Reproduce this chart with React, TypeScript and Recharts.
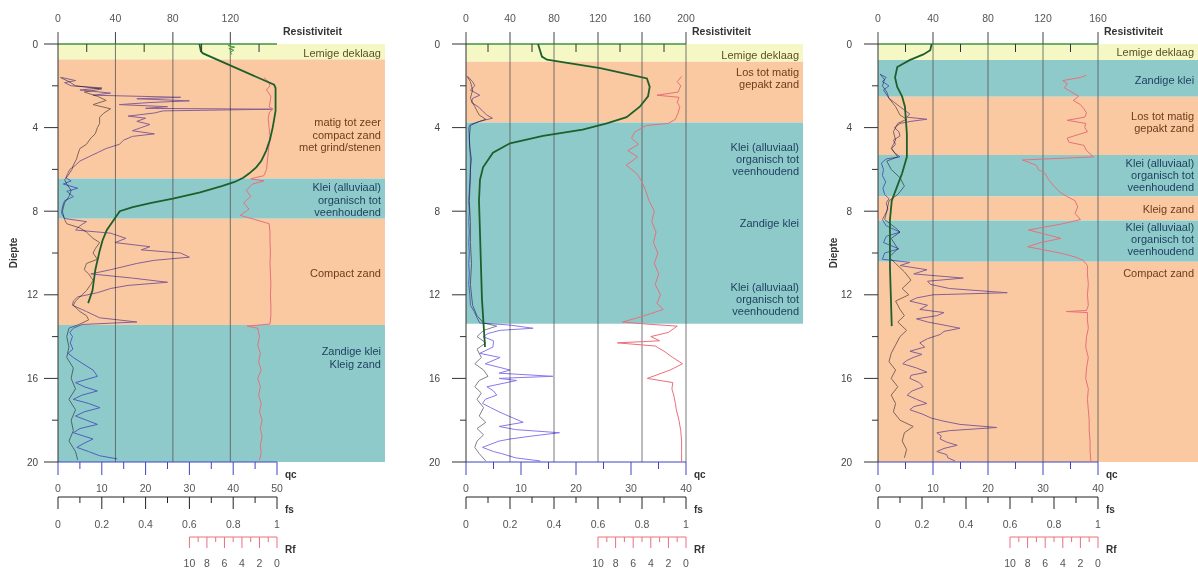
import React from 'react';
import { ComposedChart, XAxis, YAxis, Scatter, ReferenceArea, ReferenceLine } from 'recharts';

const FONT = '"Liberation Sans", Arial, sans-serif';

// ** Ticks
const depthTicks = [0, 2, 4, 6, 8, 10, 12, 14, 16, 18, 20];
const qcTicks50 = [0, 5, 10, 15, 20, 25, 30, 35, 40, 45, 50];
const qcTicks40 = [0, 5, 10, 15, 20, 25, 30, 35, 40];
const fsTicks = [0, 0.1, 0.2, 0.3, 0.4, 0.5, 0.6, 0.7, 0.8, 0.9, 1];
const rfTicks = [0, 1, 2, 3, 4, 5, 6, 7, 8, 9, 10];
const resTicks1 = [0, 20, 40, 60, 80, 100, 120, 140];
const resTicks2 = [0, 20, 40, 60, 80, 100, 120, 140, 160, 180, 200];
const resTicks3 = [0, 20, 40, 60, 80, 100, 120, 140, 160];
const resGrid1 = [40, 80, 120];
const resGrid2 = [40, 80, 120, 160, 200];
const resGrid3 = [40, 80, 120, 160];

type Pt = [number, number]; // [depth, value]
type Kind = 'Y' | 'O' | 'T';
type Layer = [number, number, Kind];
type LayerLabel = { d: number; kind: Kind; lines: string[] };

// ** Sondering 1
const qc1: Pt[] = [
  [1.6, 0.8], [1.75, 4], [1.85, 1.5], [2.0, 3], [2.1, 10], [2.2, 5], [2.35, 12], [2.45, 8], [2.55, 28], [2.62, 18],
  [2.72, 30], [2.8, 21], [2.9, 14], [3.0, 25], [3.08, 20], [3.12, 49], [3.2, 24], [3.3, 22], [3.45, 16], [3.55, 20],
  [3.7, 18], [3.85, 21], [4.0, 19], [4.15, 17], [4.3, 22], [4.42, 17], [4.6, 15], [4.8, 14], [5.0, 11], [5.2, 9],
  [5.4, 7], [5.6, 5], [5.8, 4], [6.0, 2.7], [6.2, 2.2], [6.4, 1.8], [6.55, 3], [6.7, 1.2], [6.9, 4.5], [7.05, 2],
  [7.3, 3.5], [7.5, 1.5], [7.8, 1.0], [8.1, 0.8], [8.35, 1.5], [8.5, 6.5], [8.7, 5], [8.9, 4], [9.05, 12], [9.3, 15.5],
  [9.5, 13], [9.7, 21], [9.85, 19], [10.0, 28], [10.2, 30], [10.35, 22], [10.5, 18], [10.8, 12], [11.0, 7.5], [11.2, 17],
  [11.4, 25], [11.55, 16], [11.7, 12], [11.9, 9], [12.1, 4.5], [12.3, 3.5], [12.5, 3.3], [12.8, 6.5], [13.1, 9.5], [13.3, 18],
  [13.42, 5.5], [13.6, 3.5], [13.8, 2.7], [14.0, 3.3], [14.3, 2.8], [14.6, 3.4], [14.8, 2.3], [15.0, 3.5], [15.3, 5.7], [15.6, 8],
  [15.9, 9], [16.2, 4], [16.4, 6], [16.6, 9], [16.8, 5.5], [17.0, 3.5], [17.2, 7], [17.4, 9.6], [17.6, 6], [17.8, 4],
  [18.0, 6.5], [18.2, 9], [18.4, 5], [18.6, 3.5], [18.9, 8], [19.1, 6], [19.3, 4.3], [19.5, 7], [19.7, 9.5], [19.85, 13.5],
];
const fs1: Pt[] = [
  [1.6, 0.01], [1.8, 0.05], [2.0, 0.08], [2.15, 0.2], [2.3, 0.12], [2.5, 0.18], [2.7, 0.22], [2.9, 0.16], [3.1, 0.24], [3.3, 0.21],
  [3.5, 0.19], [3.8, 0.19], [4.0, 0.18], [4.3, 0.17], [4.5, 0.15], [4.8, 0.13], [5.0, 0.1], [5.3, 0.09], [5.5, 0.085], [5.8, 0.07],
  [6.0, 0.064], [6.3, 0.045], [6.5, 0.03], [6.7, 0.04], [7.0, 0.06], [7.3, 0.05], [7.6, 0.03], [8.0, 0.02], [8.4, 0.03], [8.6, 0.04],
  [8.8, 0.1], [9.0, 0.13], [9.3, 0.16], [9.5, 0.19], [9.8, 0.17], [10.0, 0.16], [10.3, 0.18], [10.5, 0.13], [10.8, 0.12], [11.0, 0.14],
  [11.3, 0.16], [11.5, 0.15], [11.8, 0.13], [12.0, 0.11], [12.3, 0.08], [12.5, 0.07], [12.8, 0.1], [13.0, 0.13], [13.2, 0.14], [13.4, 0.1],
  [13.6, 0.05], [14.0, 0.04], [14.5, 0.05], [15.0, 0.04], [15.5, 0.07], [16.0, 0.06], [16.5, 0.08], [17.0, 0.05], [17.5, 0.08], [18.0, 0.06],
  [18.5, 0.07], [19.0, 0.05], [19.5, 0.08], [19.9, 0.09],
];
const rf1: Pt[] = [
  [1.6, 1.5], [1.8, 1.0], [2.0, 0.8], [2.2, 1.2], [2.5, 0.7], [2.8, 0.8], [3.0, 0.9], [3.1, 0.5], [3.3, 0.9], [3.6, 1.0],
  [4.0, 0.9], [4.4, 0.8], [4.8, 0.9], [5.2, 1.0], [5.6, 1.1], [6.0, 1.2], [6.3, 1.5], [6.45, 3.0], [6.55, 1.5], [6.7, 2.8],
  [7.0, 3.5], [7.3, 3.0], [7.6, 3.8], [7.9, 3.2], [8.2, 4.2], [8.4, 2.5], [8.6, 0.9], [9.0, 0.8], [9.5, 0.8], [10.0, 0.75],
  [10.5, 0.8], [11.0, 0.75], [11.5, 0.7], [12.0, 0.75], [12.5, 0.7], [13.0, 0.7], [13.4, 0.8], [13.5, 3.4], [13.6, 2.2], [14.0, 2.0],
  [14.4, 2.2], [14.8, 1.9], [15.2, 2.1], [15.6, 1.8], [16.0, 2.2], [16.4, 1.9], [16.8, 2.1], [17.2, 1.8], [17.6, 2.0], [18.0, 1.7],
  [18.4, 1.9], [18.8, 1.7], [19.2, 1.9], [19.6, 1.8], [19.9, 2.0],
];
const res1: Pt[] = [
  [0, 98.5], [0.35, 99.5], [0.45, 101], [1.95, 150.5], [2.1, 151.5], [3.2, 151.5], [4.0, 149.5], [4.6, 147.5], [5.1, 145], [5.6, 141.5],
  [5.9, 138], [6.2, 133], [6.4, 129], [6.6, 123], [6.8, 114], [7.1, 99], [7.4, 80], [7.6, 65], [7.8, 52], [8.0, 43],
  [8.3, 40], [8.9, 34], [9.4, 31], [9.9, 29], [10.8, 26], [11.8, 24], [12.4, 21],
];
const resRaw1: Pt[] = [[0, 121], [0.08, 118.5], [0.15, 123], [0.22, 119], [0.3, 122.5], [0.38, 120], [0.5, 121]];
const layers1: Layer[] = [[0, 0.74, 'Y'], [0.74, 6.43, 'O'], [6.43, 8.36, 'T'], [8.36, 13.44, 'O'], [13.44, 20, 'T']];
const labels1: LayerLabel[] = [
  { d: 0.43, kind: 'Y', lines: ['Lemige deklaag'] },
  { d: 4.35, kind: 'O', lines: ['matig tot zeer', 'compact zand', 'met grind/stenen'] },
  { d: 7.46, kind: 'T', lines: ['Klei (alluviaal)', 'organisch tot', 'veenhoudend'] },
  { d: 10.96, kind: 'O', lines: ['Compact zand'] },
  { d: 15.0, kind: 'T', lines: ['Zandige klei', 'Kleig zand'] },
];

// ** Sondering 2
const qc2: Pt[] = [
  [1.55, 0.3], [1.8, 1.2], [2.0, 1.6], [2.2, 0.8], [2.45, 2.5], [2.6, 1.2], [2.8, 1.0], [3.0, 2.2], [3.2, 3.0], [3.4, 3.8],
  [3.55, 4.8], [3.7, 2.5], [3.85, 0.8], [4.0, 0.5], [4.5, 0.6], [5.0, 0.7], [5.5, 1.0], [6.0, 0.8], [6.5, 0.7], [7.0, 0.6],
  [7.5, 0.5], [8.0, 0.6], [8.5, 0.5], [9.0, 0.6], [9.5, 0.5], [10.0, 0.6], [10.5, 0.5], [11.0, 0.6], [11.5, 0.5], [12.0, 0.7],
  [12.5, 0.8], [12.8, 1.5], [13.1, 2.0], [13.35, 2.5], [13.45, 8], [13.6, 12.2], [13.7, 6.2], [13.85, 4], [14.0, 3.1], [14.2, 5],
  [14.5, 4.9], [14.8, 2.5], [15.0, 6.2], [15.3, 3.5], [15.6, 8], [15.75, 6], [15.9, 15.8], [16.0, 6], [16.1, 9.2], [16.4, 3.8],
  [16.6, 5], [16.8, 5.6], [17.0, 3.5], [17.2, 3.0], [17.4, 4.5], [17.6, 6], [17.9, 8.6], [18.1, 10.4], [18.3, 6], [18.45, 9],
  [18.6, 17], [18.75, 12.2], [18.9, 8], [19.0, 6], [19.2, 4], [19.3, 3], [19.5, 5], [19.6, 6.5], [19.8, 9], [19.95, 13.5],
];
const fs2: Pt[] = [
  [1.55, 0.005], [1.8, 0.02], [2.2, 0.03], [2.6, 0.02], [3.0, 0.04], [3.4, 0.06], [3.6, 0.09], [3.75, 0.05], [3.9, 0.02], [4.5, 0.015],
  [5.5, 0.02], [6.5, 0.02], [7.5, 0.015], [8.5, 0.02], [9.5, 0.02], [10.5, 0.025], [11.5, 0.02], [12.5, 0.03], [13.0, 0.05], [13.35, 0.08],
  [13.5, 0.14], [13.7, 0.08], [14.0, 0.05], [14.3, 0.09], [14.6, 0.05], [15.0, 0.07], [15.3, 0.04], [15.6, 0.08], [15.9, 0.1], [16.1, 0.06],
  [16.4, 0.04], [16.7, 0.07], [17.0, 0.05], [17.4, 0.08], [17.8, 0.06], [18.1, 0.09], [18.4, 0.05], [18.7, 0.08], [19.0, 0.05], [19.3, 0.04],
  [19.6, 0.06], [19.95, 0.09],
];
const rf2: Pt[] = [
  [1.55, 0.5], [1.8, 1.0], [2.0, 0.6], [2.3, 0.9], [2.45, 3.3], [2.55, 0.8], [2.8, 1.0], [3.0, 0.7], [3.3, 0.9], [3.6, 1.2],
  [3.8, 2.0], [3.9, 4.5], [4.2, 5.8], [4.5, 6.2], [4.8, 5.4], [5.1, 6.6], [5.4, 5.5], [5.8, 6.8], [6.2, 5.6], [6.6, 5.0],
  [7.0, 4.6], [7.5, 4.2], [8.0, 3.6], [8.5, 3.9], [9.0, 3.4], [9.5, 3.7], [10.0, 3.2], [10.5, 3.6], [11.0, 3.1], [11.5, 3.5],
  [12.0, 2.9], [12.4, 3.3], [12.7, 2.6], [12.9, 4.0], [13.1, 5.5], [13.3, 7.2], [13.4, 4.5], [13.5, 1.0], [13.8, 2.0], [14.0, 4.0],
  [14.2, 3.0], [14.3, 7.8], [14.45, 3.5], [14.7, 2.5], [15.0, 1.5], [15.3, 0.4], [15.6, 1.8], [16.0, 4.4], [16.2, 1.5], [16.5, 1.6],
  [16.8, 1.4], [17.2, 1.2], [17.5, 1.1], [18.0, 0.8], [18.5, 0.6], [19.0, 0.5], [19.5, 0.5], [20.0, 0.5],
];
const res2: Pt[] = [
  [0, 65.5], [0.6, 69], [0.75, 73.6], [0.9, 92], [1.15, 122], [1.5, 152], [1.65, 164.5], [2.05, 167], [2.5, 165.5], [3.0, 158],
  [3.5, 146], [3.8, 128], [4.1, 106], [4.4, 70], [4.75, 40], [5.2, 24.5], [5.9, 15.5], [6.5, 12.7], [7.5, 11.8], [9.0, 12.7],
  [12.2, 14.5], [14.5, 17.3],
];
const layers2: Layer[] = [[0, 0.85, 'Y'], [0.85, 3.75, 'O'], [3.75, 13.38, 'T']];
const labels2: LayerLabel[] = [
  { d: 0.53, kind: 'Y', lines: ['Lemige deklaag'] },
  { d: 1.63, kind: 'O', lines: ['Los tot matig', 'gepakt zand'] },
  { d: 5.5, kind: 'T', lines: ['Klei (alluviaal)', 'organisch tot', 'veenhoudend'] },
  { d: 8.56, kind: 'T', lines: ['Zandige klei'] },
  { d: 12.2, kind: 'T', lines: ['Klei (alluviaal)', 'organisch tot', 'veenhoudend'] },
];

// ** Sondering 3
const qc3: Pt[] = [
  [1.45, 0.4], [1.6, 1.5], [1.8, 0.8], [2.0, 2.0], [2.2, 1.0], [2.4, 1.5], [2.6, 2.0], [2.8, 3.0], [3.0, 4.0], [3.2, 5.0],
  [3.35, 5.8], [3.5, 5.2], [3.6, 8.9], [3.7, 6.0], [3.8, 4.0], [4.0, 3.0], [4.2, 3.8], [4.4, 4.0], [4.6, 2.8], [4.8, 3.2],
  [5.0, 2.5], [5.2, 3.0], [5.4, 4.0], [5.5, 1.5], [5.7, 0.6], [6.0, 1.0], [6.3, 0.8], [6.6, 1.4], [6.9, 0.9], [7.2, 1.2],
  [7.4, 2.0], [7.6, 1.5], [7.9, 1.8], [8.2, 1.2], [8.4, 0.8], [8.7, 1.5], [9.0, 4.0], [9.2, 1.5], [9.5, 1.0], [9.8, 3.8],
  [10.0, 1.2], [10.3, 0.8], [10.45, 5.8], [10.6, 4.0], [10.8, 8.9], [11.0, 6.5], [11.2, 15.5], [11.35, 9], [11.5, 9.5], [11.7, 13],
  [11.9, 23.5], [12.0, 10], [12.15, 7], [12.3, 5.8], [12.5, 9], [12.7, 7.6], [12.85, 12], [13.0, 10.7], [13.15, 7], [13.3, 9],
  [13.45, 12], [13.6, 14.9], [13.75, 12], [13.9, 11.3], [14.1, 9], [14.3, 7.6], [14.5, 8.5], [14.7, 5.8], [14.85, 8], [15.0, 6.4],
  [15.15, 5.2], [15.3, 4.5], [15.5, 7], [15.7, 8.9], [15.85, 6], [16.0, 5.8], [16.2, 7.5], [16.4, 8.2], [16.6, 6.2], [16.8, 5.3],
  [17.0, 7], [17.2, 8.9], [17.35, 6.5], [17.5, 5.8], [17.7, 8], [17.9, 9.7], [18.05, 12], [18.2, 14.9], [18.35, 21.6], [18.5, 13],
  [18.6, 10.7], [18.75, 11.5], [18.9, 11.3], [19.05, 12.5], [19.2, 14.4], [19.35, 12], [19.5, 10.7], [19.65, 12.5], [19.8, 12.7], [19.95, 14],
];
const fs3: Pt[] = [
  [1.45, 0.01], [1.7, 0.03], [2.0, 0.02], [2.3, 0.04], [2.6, 0.05], [3.0, 0.08], [3.4, 0.1], [3.6, 0.13], [3.8, 0.09], [4.2, 0.07],
  [4.6, 0.08], [5.0, 0.06], [5.4, 0.09], [5.6, 0.04], [6.0, 0.06], [6.4, 0.1], [6.8, 0.12], [7.2, 0.09], [7.5, 0.05], [8.0, 0.04],
  [8.4, 0.03], [8.8, 0.08], [9.0, 0.1], [9.3, 0.06], [9.8, 0.09], [10.2, 0.05], [10.5, 0.08], [10.9, 0.12], [11.3, 0.15], [11.7, 0.11],
  [12.0, 0.14], [12.3, 0.08], [12.7, 0.1], [13.0, 0.12], [13.3, 0.09], [13.7, 0.13], [14.0, 0.1], [14.4, 0.08], [14.8, 0.06], [15.2, 0.05],
  [15.6, 0.08], [16.0, 0.06], [16.4, 0.09], [16.8, 0.06], [17.2, 0.08], [17.6, 0.07], [18.0, 0.1], [18.3, 0.16], [18.6, 0.12], [19.0, 0.11],
  [19.4, 0.13], [19.8, 0.12],
];
const rf3: Pt[] = [
  [1.5, 1.3], [1.6, 2.0], [1.75, 4.0], [1.9, 3.5], [2.1, 3.8], [2.3, 3.0], [2.5, 2.2], [2.7, 2.8], [2.9, 2.0], [3.1, 1.6],
  [3.3, 1.3], [3.5, 1.5], [3.65, 3.5], [3.8, 1.4], [4.0, 1.5], [4.2, 1.2], [4.5, 3.5], [4.7, 3.3], [4.85, 1.6], [5.1, 1.3],
  [5.4, 0.5], [5.55, 8.6], [5.8, 7.0], [6.0, 6.8], [6.2, 6.0], [6.5, 5.6], [6.8, 5.0], [7.1, 4.3], [7.3, 3.5], [7.5, 2.6],
  [7.8, 2.3], [8.1, 2.6], [8.4, 2.0], [8.6, 4.0], [8.9, 7.9], [9.1, 6.0], [9.3, 4.2], [9.5, 6.5], [9.7, 8.0], [10.0, 4.3],
  [10.2, 2.5], [10.35, 1.7], [10.6, 1.2], [11.0, 1.2], [11.5, 1.1], [12.0, 1.2], [12.5, 1.1], [12.75, 1.3], [12.8, 3.6], [12.85, 1.2],
  [13.2, 1.2], [13.6, 1.1], [14.0, 1.3], [14.5, 1.4], [15.0, 1.1], [15.5, 1.3], [16.0, 1.4], [16.5, 1.1], [17.0, 1.2], [17.5, 1.1],
  [18.0, 1.0], [18.5, 1.0], [19.0, 0.9], [19.5, 0.9], [20.0, 0.8],
];
const res3: Pt[] = [
  [0, 39], [0.3, 38], [0.5, 33], [0.77, 23], [1.1, 14], [1.6, 12.4], [2.05, 14], [2.5, 17.5], [3.0, 19.6], [4.3, 21],
  [5.4, 21], [6.2, 17.5], [6.8, 14], [7.5, 10], [8.4, 8.7], [10.7, 8.7], [13.5, 10],
];
const layers3: Layer[] = [
  [0, 0.76, 'Y'], [0.76, 2.52, 'T'], [2.52, 5.31, 'O'], [5.31, 7.3, 'T'], [7.3, 8.45, 'O'], [8.45, 10.42, 'T'], [10.42, 20, 'O'],
];
const labels3: LayerLabel[] = [
  { d: 0.37, kind: 'Y', lines: ['Lemige deklaag'] },
  { d: 1.72, kind: 'T', lines: ['Zandige klei'] },
  { d: 3.73, kind: 'O', lines: ['Los tot matig', 'gepakt zand'] },
  { d: 6.27, kind: 'T', lines: ['Klei (alluviaal)', 'organisch tot', 'veenhoudend'] },
  { d: 7.9, kind: 'O', lines: ['Kleig zand'] },
  { d: 9.33, kind: 'T', lines: ['Klei (alluviaal)', 'organisch tot', 'veenhoudend'] },
  { d: 10.95, kind: 'O', lines: ['Compact zand'] },
];

// ** Styling
const LAYER_FILL: Record<Kind, string> = { Y: '#f5f8c4', O: '#fac9a1', T: '#8fcacb' };
const LAYER_TEXT: Record<Kind, string> = { Y: '#5a5222', O: '#6e3c1c', T: '#1d3d5c' };
const QC_COLOR = '#8a78ec';
const FS_COLOR = '#84808c';
const RF_COLOR = '#e8707a';
const RES_COLOR = '#1f5f2b';
const RES_AXIS = '#3f9442';
const LINE_H = 12.3;

const toPts = (a: Pt[]) => a.map(([d, v]) => ({ d, v }));
const noDot = () => <g />;

const yTick = (gap: number, title: boolean) => (p: any) => {
  const v = p.payload.value;
  const major = v % 4 === 0;
  return (
    <g>
      <line x1={p.x - (major ? 14 : 6)} x2={p.x} y1={p.y} y2={p.y} stroke="#333" />
      {major && (
        <text x={p.x - 14 - gap} y={p.y} dy="0.35em" textAnchor="end" fontSize={10} fill="#444" fontFamily={FONT}>
          {v}
        </text>
      )}
      {title && v === 10 && (
        <text
          x={p.x - 41.5}
          y={p.y}
          textAnchor="middle"
          fontSize={10}
          fontWeight="bold"
          fill="#333"
          fontFamily={FONT}
          transform={`rotate(-90 ${p.x - 41.5} ${p.y})`}
        >
          Diepte
        </text>
      )}
    </g>
  );
};

const topTick = (plotRight: number) => (p: any) => {
  const v = p.payload.value;
  const major = v % 40 === 0;
  return (
    <g>
      {major ? (
        <line x1={p.x} x2={p.x} y1={p.y - 12} y2={p.y} stroke="#444" />
      ) : (
        <line x1={p.x} x2={p.x} y1={p.y} y2={p.y + 8} stroke="#333" />
      )}
      {major && (
        <text x={p.x} y={p.y - 22} textAnchor="middle" fontSize={10.5} fill="#555" fontFamily={FONT}>
          {v}
        </text>
      )}
      {v === 0 && (
        <text x={plotRight + 6} y={p.y - 9} fontSize={10.5} fontWeight="bold" fill="#333" fontFamily={FONT}>
          Resistiviteit
        </text>
      )}
    </g>
  );
};

type BottomSpec = {
  isMajor: (v: number) => boolean;
  majorLen: number;
  minorLen: number;
  color: string;
  fmt: (v: number) => string;
  labelDy: number;
  title: string;
  titleAt: number;
  titleX: number;
  seg?: number;
};

const bottomTick = (s: BottomSpec) => (p: any) => {
  const v = p.payload.value;
  const major = s.isMajor(v);
  return (
    <g>
      {s.seg && v > 0 ? <line x1={p.x} x2={p.x + s.seg} y1={p.y} y2={p.y} stroke={s.color} /> : null}
      <line x1={p.x} x2={p.x} y1={p.y} y2={p.y + (major ? s.majorLen : s.minorLen)} stroke={s.color} />
      {major && (
        <text x={p.x} y={p.y + s.labelDy} textAnchor="middle" fontSize={10.5} fill="#555" fontFamily={FONT}>
          {s.fmt(v)}
        </text>
      )}
      {v === s.titleAt && (
        <text x={s.titleX} y={p.y + 16} fontSize={10} fontWeight="bold" fill="#333" fontFamily={FONT}>
          {s.title}
        </text>
      )}
    </g>
  );
};

const labelShape = (lines: string[], color: string) => (p: any) => {
  const tx = p.x + p.width - 4;
  const y0 = p.y + p.height / 2 - ((lines.length - 1) * LINE_H) / 2;
  return (
    <text textAnchor="end" fontSize={11} fill={color} fontFamily={FONT}>
      {lines.map((l, i) => (
        <tspan key={i} x={tx} y={y0 + i * LINE_H} dy="0.35em">
          {l}
        </tspan>
      ))}
    </text>
  );
};

type PanelProps = {
  left: number;
  width: number;
  plotLeft: number;
  plotRight: number;
  qcMax: number;
  qcTicks: number[];
  resMax: number;
  resTicks: number[];
  resGrid: number[];
  bandEnd: number;
  yGap: number;
  depthTitle: boolean;
  layers: Layer[];
  labels: LayerLabel[];
  qc: Pt[];
  fs: Pt[];
  rf: Pt[];
  res: Pt[];
  resRaw?: Pt[];
};

const Panel: React.FC<PanelProps> = (c) => {
  const plotW = c.plotRight - c.plotLeft;
  const bandX2 = c.bandEnd * c.resMax;
  return (
    <div style={{ position: 'absolute', left: c.left, top: 0 }}>
      <ComposedChart
        width={c.width}
        height={571}
        margin={{ top: 0, right: c.width - c.plotRight, bottom: 0, left: c.plotLeft - 58 }}
      >
        <XAxis
          xAxisId="res"
          orientation="top"
          type="number"
          dataKey="v"
          domain={[0, c.resMax]}
          allowDataOverflow
          ticks={c.resTicks}
          interval={0}
          height={44}
          tickSize={0}
          tickMargin={0}
          tickLine={false}
          axisLine={{ stroke: RES_AXIS, strokeWidth: 1.5 }}
          tick={topTick(c.plotRight)}
        />
        <XAxis
          xAxisId="a_qc"
          type="number"
          dataKey="v"
          domain={[0, c.qcMax]}
          allowDataOverflow
          ticks={c.qcTicks}
          interval={0}
          height={35}
          tickSize={0}
          tickMargin={0}
          tickLine={false}
          axisLine={{ stroke: '#3c44c4' }}
          tick={bottomTick({
            isMajor: (v) => v % 10 === 0,
            majorLen: 13,
            minorLen: 7,
            color: '#3c44c4',
            fmt: (v) => String(v),
            labelDy: 30,
            title: 'qc',
            titleAt: c.qcMax,
            titleX: c.plotRight + 8,
          })}
        />
        <XAxis
          xAxisId="b_fs"
          type="number"
          dataKey="v"
          domain={[0, 1]}
          allowDataOverflow
          ticks={fsTicks}
          interval={0}
          height={40}
          tickSize={0}
          tickMargin={0}
          tickLine={false}
          axisLine={{ stroke: '#222' }}
          tick={bottomTick({
            isMajor: (v) => Math.round(v * 10) % 2 === 0,
            majorLen: 12,
            minorLen: 6,
            color: '#222',
            fmt: (v) => (v === 0 || v === 1 ? String(v) : v.toFixed(1)),
            labelDy: 31,
            title: 'fs',
            titleAt: 1,
            titleX: c.plotRight + 8,
          })}
        />
        <XAxis
          xAxisId="c_rf"
          type="number"
          dataKey="v"
          domain={[0, 25]}
          reversed
          allowDataOverflow
          ticks={rfTicks}
          interval={0}
          height={34}
          tickSize={0}
          tickMargin={0}
          tickLine={false}
          axisLine={false}
          tick={bottomTick({
            isMajor: (v) => v % 2 === 0,
            majorLen: 11,
            minorLen: 5,
            color: RF_COLOR,
            fmt: (v) => String(v),
            labelDy: 30,
            title: 'Rf',
            titleAt: 0,
            titleX: c.plotRight + 8,
            seg: plotW / 25,
          })}
        />
        <YAxis
          yAxisId="d"
          type="number"
          dataKey="d"
          domain={[0, 20]}
          reversed
          allowDataOverflow
          ticks={depthTicks}
          interval={0}
          width={58}
          tickSize={0}
          tickMargin={0}
          tickLine={false}
          axisLine={{ stroke: '#333' }}
          tick={yTick(c.yGap, c.depthTitle)}
        />

        {c.layers.map(([top, bottom, kind], i) => (
          <ReferenceArea
            key={`l${i}`}
            xAxisId="res"
            yAxisId="d"
            x1={0}
            x2={bandX2}
            y1={top}
            y2={bottom}
            fill={LAYER_FILL[kind]}
            fillOpacity={1}
            stroke="none"
            ifOverflow="visible"
          />
        ))}
        {c.resGrid.map((g) => (
          <ReferenceLine key={`g${g}`} xAxisId="res" yAxisId="d" x={g} stroke="#555" strokeWidth={0.8} />
        ))}

        <Scatter className="blendTrace" data={toPts(c.fs)} xAxisId="b_fs" yAxisId="d" fill={FS_COLOR} line={{ stroke: FS_COLOR, strokeWidth: 1 }} shape={noDot} isAnimationActive={false} />
        <Scatter className="blendTrace" data={toPts(c.qc)} xAxisId="a_qc" yAxisId="d" fill={QC_COLOR} line={{ stroke: QC_COLOR, strokeWidth: 1 }} shape={noDot} isAnimationActive={false} />
        <Scatter data={toPts(c.rf)} xAxisId="c_rf" yAxisId="d" fill={RF_COLOR} line={{ stroke: RF_COLOR, strokeWidth: 1 }} shape={noDot} isAnimationActive={false} />
        {c.resRaw && (
          <Scatter data={toPts(c.resRaw)} xAxisId="res" yAxisId="d" fill={RES_AXIS} line={{ stroke: RES_AXIS, strokeWidth: 1 }} shape={noDot} isAnimationActive={false} />
        )}
        <Scatter data={toPts(c.res)} xAxisId="res" yAxisId="d" fill={RES_COLOR} line={{ stroke: RES_COLOR, strokeWidth: 1.8 }} shape={noDot} isAnimationActive={false} />

        {c.labels.map((lb, i) => (
          <ReferenceArea
            key={`t${i}`}
            xAxisId="res"
            yAxisId="d"
            x1={0}
            x2={bandX2}
            y1={lb.d - 0.5}
            y2={lb.d + 0.5}
            fill="none"
            stroke="none"
            ifOverflow="visible"
            shape={labelShape(lb.lines, LAYER_TEXT[lb.kind])}
          />
        ))}
      </ComposedChart>
    </div>
  );
};

export default function App() {
  return (
    <div style={{ position: 'absolute', left: 0, top: 0, width: 1198, height: 571, background: '#fff', overflow: 'hidden' }}>
      <style>{'.blendTrace { mix-blend-mode: multiply; }'}</style>
      <Panel
        left={0}
        width={400}
        plotLeft={58}
        plotRight={277}
        qcMax={50}
        qcTicks={qcTicks50}
        resMax={152.5}
        resTicks={resTicks1}
        resGrid={resGrid1}
        bandEnd={1.493}
        yGap={6}
        depthTitle
        layers={layers1}
        labels={labels1}
        qc={qc1}
        fs={fs1}
        rf={rf1}
        res={res1}
        resRaw={resRaw1}
      />
      <Panel
        left={400}
        width={410}
        plotLeft={66}
        plotRight={286}
        qcMax={40}
        qcTicks={qcTicks40}
        resMax={200}
        resTicks={resTicks2}
        resGrid={resGrid2}
        bandEnd={1.532}
        yGap={12}
        depthTitle={false}
        layers={layers2}
        labels={labels2}
        qc={qc2}
        fs={fs2}
        rf={rf2}
        res={res2}
      />
      <Panel
        left={810}
        width={388}
        plotLeft={68}
        plotRight={288}
        qcMax={40}
        qcTicks={qcTicks40}
        resMax={160}
        resTicks={resTicks3}
        resGrid={resGrid3}
        bandEnd={1.455}
        yGap={12}
        depthTitle
        layers={layers3}
        labels={labels3}
        qc={qc3}
        fs={fs3}
        rf={rf3}
        res={res3}
      />
    </div>
  );
}
